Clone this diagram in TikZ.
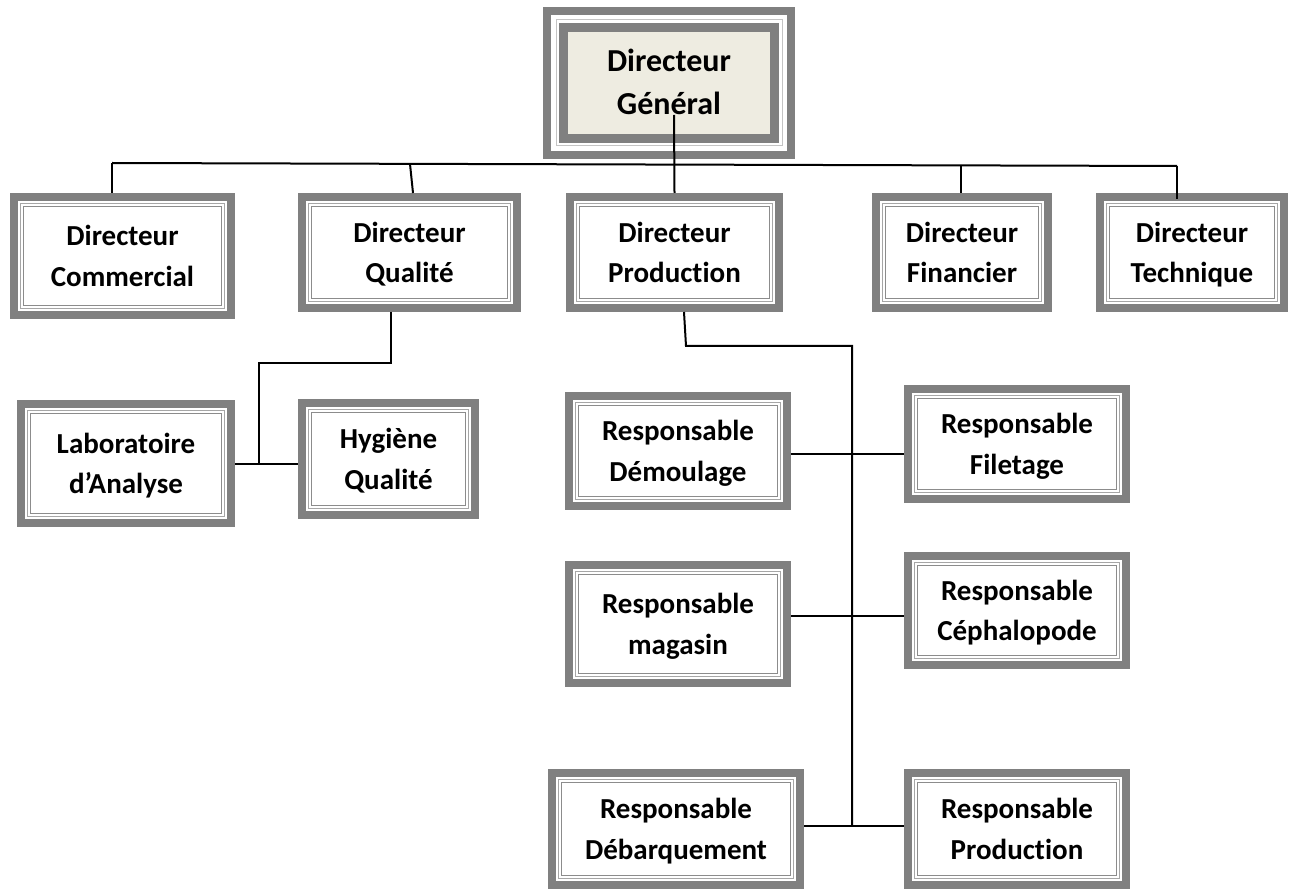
\documentclass[tikz,border=0pt]{standalone}
\usepackage{fontspec}
\newfontfamily\boxfont[Ligatures=NoCommon]{Carlito}
\definecolor{framegray}{HTML}{808080}
\definecolor{lightframe}{HTML}{A6A6A6}
\definecolor{midframe}{HTML}{8C8C8C}
\definecolor{paleframe}{HTML}{C4C4C4}
\definecolor{dgbeige}{HTML}{EEECE1}
\tikzset{
  orgbox/.style 2 args={draw=framegray, line width=8pt, fill=white, inner sep=0pt,
    align=center, font=\boxfont\bfseries\fontsize{29}{40.5}\selectfont,
    text height=60.5pt, text depth=0pt,
    minimum width=#1, minimum height=#2,
    path picture={
      \draw[line width=1.2pt, lightframe]
        ([shift={(6.5pt,-6.5pt)}]path picture bounding box.north west) rectangle
        ([shift={(-6.5pt,6.5pt)}]path picture bounding box.south east);
      \draw[line width=1.4pt, midframe]
        ([shift={(9.5pt,-9.5pt)}]path picture bounding box.north west) rectangle
        ([shift={(-9.5pt,9.5pt)}]path picture bounding box.south east);
    }},
  dgbox/.style 2 args={draw=framegray, line width=8pt, fill=white, inner sep=0pt,
    align=center, font=\boxfont\bfseries\fontsize{32}{43}\selectfont,
    text height=64pt, text depth=0pt,
    minimum width=#1, minimum height=#2,
    path picture={
      \draw[line width=1pt, paleframe]
        ([shift={(9pt,-9pt)}]path picture bounding box.north west) rectangle
        ([shift={(-9pt,9pt)}]path picture bounding box.south east);
      \draw[line width=8.5pt, framegray, fill=dgbeige]
        ([shift={(16.5pt,-16.5pt)}]path picture bounding box.north west) rectangle
        ([shift={(-16.5pt,16.5pt)}]path picture bounding box.south east);
    }},
  conn/.style={draw=black, line width=2pt}
}
\begin{document}
\begin{tikzpicture}[x=1pt,y=-1pt]
\useasboundingbox[fill=white] (0,0) rectangle (1295,890);
% top
\node[dgbox={244pt}{144pt}] (dg) at (669,83) {Directeur\\Général};
% directors
\node[orgbox={217pt}{118pt}] (comm) at (122.5,256) {Directeur\\Commercial};
\node[orgbox={215pt}{111pt}] (qual) at (409.5,252.5) {Directeur\\Qualité};
\node[orgbox={209pt}{111pt}] (prod) at (674.5,252.5) {Directeur\\Production};
\node[orgbox={172pt}{111pt}] (fin) at (962,252.5) {Directeur\\Financier};
\node[orgbox={184pt}{111pt}] (tech) at (1192,252.5) {Directeur\\Technique};
% quality
\node[orgbox={210pt}{119pt}] (labo) at (126,463.5) {Laboratoire\\d’Analyse};
\node[orgbox={173pt}{112pt}] (hyg) at (388.5,459) {Hygiène\\Qualité};
% production
\node[orgbox={218pt}{110pt}] (dem) at (678,451) {Responsable\\Démoulage};
\node[orgbox={218pt}{110pt}] (fil) at (1017,444) {Responsable\\Filetage};
\node[orgbox={218pt}{118pt}] (mag) at (678,624) {Responsable\\magasin};
\node[orgbox={218pt}{109pt}] (ceph) at (1017,610.5) {Responsable\\Céphalopode};
\node[orgbox={248pt}{112pt}] (deb) at (676,829) {Responsable\\Débarquement};
\node[orgbox={218pt}{112pt}] (rprod) at (1017,829) {Responsable\\Production};
% bus
\coordinate (busL) at (112,163);
\coordinate (busR) at (1177,166);
\coordinate (bq) at (410,164);
\coordinate (bf) at (961,165.5);
\coordinate (dgin) at (674,115);
\draw[conn] (busL) -- (busR);
\draw[conn] (busL) -- (busL |- comm.north);
\draw[conn] (bq) -- ([xshift=3.5pt]qual.north);
\draw[conn] (dgin) -- (prod.north);
\draw[conn] (bf) -- (bf |- fin.north);
\draw[conn] (busR) -- ([yshift=-6pt]busR |- tech.north);
% quality branch
\coordinate (qa) at (391,363);
\coordinate (qb) at (259,363);
\draw[conn] (qa |- qual.south) -- (qa) -- (qb) -- (qb |- labo.east);
\draw[conn] (labo.east) -- (labo.east -| hyg.west);
% production branch
\coordinate (pa) at (686,346);
\coordinate (pb) at (852,346);
\coordinate (r1) at (852,454);
\coordinate (r2) at (852,616);
\coordinate (r3) at (852,826);
\draw[conn] ([xshift=9.5pt]prod.south) -- (pa) -- (pb) -- (r3);
\draw[conn] (dem.east |- r1) -- (fil.west |- r1);
\draw[conn] (mag.east |- r2) -- (ceph.west |- r2);
\draw[conn] (deb.east |- r3) -- (rprod.west |- r3);
\end{tikzpicture}
\end{document}
